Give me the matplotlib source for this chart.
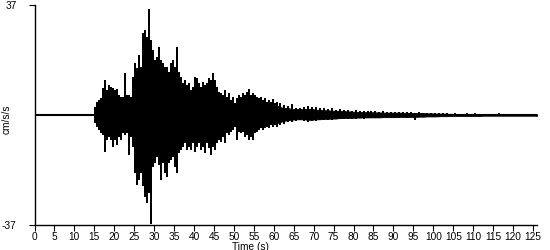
import matplotlib
matplotlib.use("Agg")
import matplotlib.pyplot as plt
import numpy as np

# peak values per half second, 15.0 s .. 61.0 s (cm/s/s)
peak_up_fine = [2.8, 4.5, 5, 5.6, 9, 11.8, 8.4, 10, 9.5, 9, 8.4, 8.6, 6.7, 6.2, 6.2, 14,
                6.7, 6.7, 6.2, 12.9, 17.4, 15.7, 20.2, 16.3, 27.5, 28.6, 26.4, 35.6, 25.2, 21.9,
                18.5, 19.6, 23, 18.5, 17.4, 16.3, 16.3, 14.6, 17.4, 18.5, 16.3, 23, 14.6, 12.9,
                10.7, 11.8, 10, 10.7, 8.4, 9.5, 12.9, 12.3, 10.7, 9.5, 11.2, 10, 10.7, 12.3,
                11.8, 14, 11.8, 9.5, 7.9, 7.3, 6.7, 8.4, 6.2, 7.3, 5, 6.2, 3.9, 5.6, 6.7, 6,
                7.3, 6.7, 7.9, 8.6, 6.7, 7.3, 6.7, 6.2, 5.6, 6.2, 5, 5.6, 4.5, 5, 4.5, 5.4, 4, 4.5]
peak_dn_fine = [2.8, 4, 5, 6.2, 6.7, 12.3, 8.4, 7.3, 8.4, 10.7, 8.4, 10, 7.3, 8.4, 6.2, 6.7,
                6.2, 13.5, 7.3, 10.7, 19.6, 23.6, 21.9, 19.6, 24, 27.5, 29.7, 26.4, 36.5, 17.4,
                16.3, 14, 16.8, 21.9, 16.3, 19.6, 20.8, 16.3, 15.2, 14, 17.4, 19.6, 12.9, 11.8,
                10.7, 9.5, 11.8, 10.7, 11.8, 9.5, 12.3, 10.7, 9.5, 11.8, 10.7, 12.9, 9.5, 11.2,
                13.5, 10.7, 11.8, 9.5, 8.4, 9, 7.3, 9.5, 6.2, 6.7, 5.6, 5, 3.9, 8.4, 5.6, 6.2,
                5.6, 7.3, 6.7, 8.4, 7.3, 8.4, 6.2, 5.6, 5, 4.5, 5, 4.5, 3.9, 4.5, 3.4, 3.9, 3.4, 3.9]

# peak values per second, 61 s .. 125 s
peak_up_tail = [3.9, 3.4, 3.0, 3.7, 2.5, 2.5, 2.8, 3.0, 2.6, 2.8, 2.2, 2.4, 2.0, 2.2, 1.8, 2.0,
                1.7, 1.8, 1.5, 1.6, 1.3, 1.4, 1.2, 1.3, 1.2, 1.1, 1.3, 1.0, 1.1, 1.0, 1.1, 1.0,
                0.9, 1.0, 0.8, 0.9, 0.8, 0.8, 0.7, 0.7, 0.6, 0.6, 0.7, 0.5, 0.6, 0.4, 0.5, 0.6,
                0.4, 0.6, 0.4, 0.4, 0.3, 0.3, 0.4, 0.6, 0.3, 0.3, 0.3, 0.3, 0.3, 0.3, 0.3, 0.3, 0.3]
peak_dn_tail = [3.4, 3.0, 2.5, 2.2, 2.0, 1.8, 2.0, 2.3, 2.0, 2.0, 1.8, 1.8, 1.6, 1.6, 1.5, 1.5,
                1.3, 1.4, 1.2, 1.3, 1.1, 1.2, 1.0, 1.1, 1.0, 1.0, 1.0, 0.9, 0.9, 1.0, 0.9, 0.8,
                0.9, 0.8, 1.8, 0.8, 0.7, 0.7, 0.6, 0.6, 0.7, 0.5, 0.5, 0.5, 0.4, 0.5, 0.4, 0.5,
                0.4, 0.5, 0.4, 0.4, 0.3, 0.3, 0.3, 0.5, 0.3, 0.3, 0.3, 0.3, 0.3, 0.3, 0.3, 0.3, 0.3]

t_fine = 15.25 + 0.5 * np.arange(len(peak_up_fine))
t_tail = 61.5 + np.arange(len(peak_up_tail))
t = np.concatenate([t_fine, t_tail])
up = np.array(peak_up_fine + peak_up_tail)
dn = np.array(peak_dn_fine + peak_dn_tail)

# dense body of the trace = lowest neighbouring peak, a bit shrunk
def body(v):
    pad = np.concatenate([[v[0]], v, [v[-1]]])
    return 0.8 * np.minimum(np.minimum(pad[:-2], pad[1:-1]), pad[2:])

fig = plt.figure(figsize=(5.5, 2.5), dpi=100)
ax = fig.add_axes([34.5 / 550, 25 / 250, (537 - 34.5) / 550, 220 / 250])

ax.plot([0, 126], [0, 0], color="black", lw=1.5, solid_capstyle="butt")
tb = np.concatenate([[15.0], t, [126]])
ub = np.concatenate([[0.3], body(up), [0.3]])
db = np.concatenate([[0.3], body(dn), [0.3]])
ax.fill_between(tb, ub, -db, color="black", lw=0.6, edgecolor="black")
ax.vlines(t, -dn, up, color="black", lw=1.1, antialiased=False)

ax.set_xlim(0, 126)
ax.set_ylim(-37, 37)
ax.set_xticks(np.arange(0, 126, 5))
ax.set_yticks([-37, 37])
ax.set_yticklabels(["-37", "37"])
for s in ["top", "right"]:
    ax.spines[s].set_visible(False)
for s in ["left", "bottom"]:
    ax.spines[s].set_linewidth(1.0)
ax.tick_params(axis="x", length=4, width=0.8, labelsize=7.3, pad=1)
ax.tick_params(axis="y", length=4, width=0.8, labelsize=7.3, pad=9)
for lab in ax.get_xticklabels() + ax.get_yticklabels():
    lab.set_fontfamily("Liberation Sans")

ax.set_xlabel("Time (s)", fontsize=7.3, family="Liberation Sans", labelpad=0)
ax.xaxis.set_label_coords(0.43, -0.075)
ax.set_ylabel("cm/s/s", fontsize=7.3, family="Liberation Sans")
ax.yaxis.set_label_coords(-0.045, 0.48)

fig.savefig("out.png", dpi=100)
